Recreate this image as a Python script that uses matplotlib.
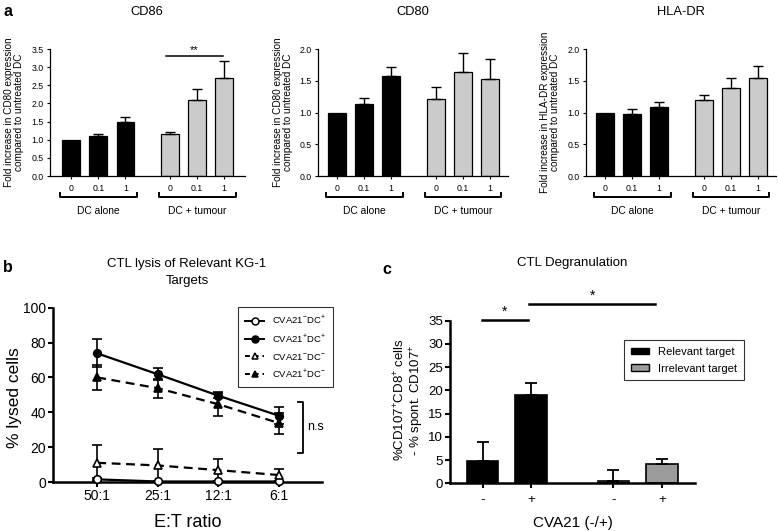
import matplotlib
matplotlib.use('Agg')
import matplotlib.pyplot as plt
from matplotlib.lines import Line2D
from matplotlib.patches import Patch

plt.rcParams['font.family'] = ['Liberation Sans', 'DejaVu Sans']
plt.rcParams['mathtext.fontset'] = 'custom'
plt.rcParams['mathtext.rm'] = 'Liberation Sans'
plt.rcParams['mathtext.it'] = 'Liberation Sans:italic'
plt.rcParams['mathtext.bf'] = 'Liberation Sans:bold'

# ---------------- data ----------------
# panel a
doses = ['0', '0.1', '1', '0', '0.1', '1']
groups = ['DC alone', 'DC + tumour']
cd86 = [1.00, 1.11, 1.50, 1.17, 2.10, 2.69]
cd86_err = [0.0, 0.04, 0.13, 0.04, 0.30, 0.48]
cd80 = [1.00, 1.13, 1.58, 1.21, 1.63, 1.53]
cd80_err = [0.0, 0.10, 0.14, 0.19, 0.30, 0.31]
hla = [1.00, 0.98, 1.08, 1.20, 1.39, 1.55]
hla_err = [0.0, 0.08, 0.09, 0.07, 0.15, 0.18]

# panel b
ratios = ['50:1', '25:1', '12:1', '6:1']
neg_dcpos = [1.5, 0.3, 0.3, 0.3]
neg_dcpos_err = [1.0, 0.5, 0.5, 0.5]
pos_dcpos = [73.8, 61.8, 49.5, 38.0]
pos_dcpos_err = [8.0, 3.5, 1.5, 5.0]
neg_dcneg = [11.0, 9.5, 6.8, 4.0]
neg_dcneg_err = [10.0, 9.5, 6.5, 3.5]
pos_dcneg = [60.0, 53.8, 44.6, 33.8]
pos_dcneg_err = [7.0, 5.5, 7.0, 6.0]

# panel c
cva_labels = ['-', '+', '-', '+']
degran = [4.9, 19.1, 0.5, 4.1]
degran_err = [3.9, 2.5, 2.4, 1.2]
targets = ['Relevant target', 'Irrelevant target']

# ---------------- figure ----------------
W, H = 778, 531
fig = plt.figure(figsize=(W / 100, H / 100), dpi=100)


def px_axes(l, t, r, b):
    return fig.add_axes([l / W, 1 - b / H, (r - l) / W, (b - t) / H])


def ftext(x, y, s, **kw):
    return fig.text(x / W, 1 - y / H, s, **kw)


BLACK = '#000000'
LGREY = '#cbcbcb'
MGREY = '#9b9b9b'

# ---------------- panel a ----------------
xpos_a = [0, 1, 2, 3.65, 4.65, 5.65]
group_centers = [1.0, 4.65]


def bar_panel(ax, vals, errs, ymax, step, xlim, title, ylab, tx, lx):
    cols = [BLACK] * 3 + [LGREY] * 3
    ax.bar(xpos_a, vals, width=0.66, color=cols, edgecolor='black',
           linewidth=0.9, zorder=2)
    for x, v, e in zip(xpos_a, vals, errs):
        if e > 0:
            ax.errorbar([x], [v], yerr=[[0], [e]], fmt='none', ecolor='black',
                        elinewidth=1.0, capsize=3.6, capthick=1.0, zorder=3)
    ax.set_xlim(*xlim)
    ax.set_ylim(0, ymax)
    n = int(round(ymax / step))
    yt = [i * step for i in range(n + 1)]
    ax.set_yticks(yt)
    ax.set_yticklabels([f'{t:.1f}' for t in yt])
    ax.set_xticks(xpos_a)
    ax.set_xticklabels(doses)
    ax.tick_params(axis='both', labelsize=6.3, length=2.5, width=0.8, pad=2)
    ax.tick_params(axis='x', pad=3)
    for s in ['top', 'right']:
        ax.spines[s].set_visible(False)
    for s in ['left', 'bottom']:
        ax.spines[s].set_linewidth(0.9)
    tr = ax.get_xaxis_transform()
    for gc, gl in zip(group_centers, groups):
        ax.plot([gc - 1.42, gc - 1.42, gc + 1.42, gc + 1.42],
                [-0.134, -0.169, -0.169, -0.134], color='black', lw=1.4,
                transform=tr, clip_on=False)
        ax.text(gc, -0.275, gl, transform=tr, ha='center', va='center',
                fontsize=7.4)
    ftext(tx, 12, title, ha='center', va='center', fontsize=9.3)
    ftext(lx, 112, ylab, rotation=90, ha='center', va='center', fontsize=7.2,
          linespacing=1.12)


ylab86 = 'Fold increase in CD80 expression\ncompared to untreated DC'
ylabhla = 'Fold increase in HLA-DR expression\ncompared to untreated DC'

ax1 = px_axes(50, 49, 245, 176)
bar_panel(ax1, cd86, cd86_err, 3.5, 0.5, (-0.79, 6.42), 'CD86', ylab86, 147, 14)
ax1.plot([3.5, 5.6], [3.31, 3.31], color='black', lw=1.1, clip_on=False)
ax1.text(4.55, 3.33, '**', ha='center', va='bottom', fontsize=8)

ax2 = px_axes(318, 49, 508, 176)
bar_panel(ax2, cd80, cd80_err, 2.0, 0.5, (-0.70, 6.31), 'CD80', ylab86, 413, 283)

ax3 = px_axes(586, 49, 776, 176)
bar_panel(ax3, hla, hla_err, 2.0, 0.5, (-0.70, 6.31), 'HLA-DR', ylabhla, 681, 550)

ftext(3, 11, 'a', fontsize=11.5, fontweight='bold', ha='left', va='center')

# ---------------- panel b ----------------
axb = px_axes(53, 307.7, 322, 482)
xb = list(range(len(ratios)))
series = [
    (neg_dcpos, neg_dcpos_err, 'o', 'white', '-', 'CVA21$^{-}$DC$^{+}$'),
    (pos_dcpos, pos_dcpos_err, 'o', 'black', '-', 'CVA21$^{+}$DC$^{+}$'),
    (neg_dcneg, neg_dcneg_err, '^', 'white', '--', 'CVA21$^{-}$DC$^{-}$'),
    (pos_dcneg, pos_dcneg_err, '^', 'black', '--', 'CVA21$^{+}$DC$^{-}$'),
]
handles = []
for vals, errs, mk, mfc, ls, lab in series:
    axb.errorbar(xb, vals, yerr=errs, fmt='none', ecolor='black',
                 elinewidth=1.2, capsize=3.5, capthick=1.2, clip_on=False,
                 zorder=3)
    axb.plot(xb, vals, linestyle=ls, color='black', lw=1.6, marker=mk,
             markersize=5.5, markerfacecolor=mfc, markeredgecolor='black',
             markeredgewidth=1.2, dashes=(4, 2.5) if ls == '--' else (None, None),
             clip_on=False, zorder=4)
    h = Line2D([], [], linestyle=ls, color='black', lw=1.4, marker=mk,
               markersize=5, markerfacecolor=mfc, markeredgecolor='black',
               markeredgewidth=1.1)
    if ls == '--':
        h.set_dashes((2.5, 2))
    handles.append(h)
axb.set_xlim(-0.73, 3.71)
axb.set_ylim(0, 100)
axb.set_yticks([0, 20, 40, 60, 80, 100])
axb.set_xticks(xb)
axb.set_xticklabels(ratios)
axb.tick_params(axis='both', labelsize=10, length=3.5, width=1.5, pad=1.5)
for s in ['top', 'right']:
    axb.spines[s].set_visible(False)
for s in ['left', 'bottom']:
    axb.spines[s].set_linewidth(1.8)
leg = axb.legend(handles, [s[5] for s in series], loc='upper right',
                 bbox_to_anchor=(1.04, 1.005), borderaxespad=0, fontsize=6.8,
                 handlelength=2.0, labelspacing=0.62, frameon=True,
                 fancybox=False, edgecolor='black', borderpad=0.75,
                 handletextpad=0.8)
leg.get_frame().set_linewidth(0.8)
# n.s bracket
axb.plot([3.32, 3.40, 3.40, 3.32], [46, 46, 16.8, 16.8], color='black',
         lw=1.3, clip_on=False)
axb.text(3.47, 31.4, 'n.s', ha='left', va='center', fontsize=9)

ftext(187, 272.5, 'CTL lysis of Relevant KG-1\nTargets', ha='center',
      va='center', fontsize=9.5, linespacing=1.45)
ftext(14.5, 398, '% lysed cells', rotation=90, ha='center', va='center',
      fontsize=12.5)
ftext(187.5, 522.5, 'E:T ratio', ha='center', va='center', fontsize=13)
ftext(3, 268, 'b', fontsize=11.5, fontweight='bold', ha='left', va='center')

# ---------------- panel c ----------------
axc = px_axes(450, 320.7, 695, 483.3)
xc = [0, 1, 2.7, 3.7]
cols_c = [BLACK, BLACK, MGREY, MGREY]
axc.bar(xc, degran, width=0.65, color=cols_c, edgecolor='black',
        linewidth=1.2, zorder=2)
axc.errorbar(xc, degran, yerr=[[0] * len(xc), degran_err], fmt='none',
             ecolor='black', elinewidth=1.3, capsize=4.2, capthick=1.3,
             zorder=3)
axc.set_xlim(-0.67, 4.38)
axc.set_ylim(0, 35)
axc.set_yticks(list(range(0, 36, 5)))
axc.set_xticks(xc)
axc.set_xticklabels(cva_labels)
axc.tick_params(axis='both', labelsize=9.5, length=3.5, width=1.5, pad=1.5)
axc.tick_params(axis='x', pad=4)
for s in ['top', 'right']:
    axc.spines[s].set_visible(False)
for s in ['left', 'bottom']:
    axc.spines[s].set_linewidth(1.8)
# significance
axc.plot([-0.02, 0.93], [35.1, 35.1], color='black', lw=1.8, clip_on=False)
axc.text(0.45, 35.5, '*', ha='center', va='bottom', fontsize=10)
axc.plot([0.96, 3.56], [38.5, 38.5], color='black', lw=1.8, clip_on=False)
axc.text(2.26, 38.9, '*', ha='center', va='bottom', fontsize=10)
hc = [Patch(facecolor=BLACK, edgecolor='black', linewidth=1.0),
      Patch(facecolor=MGREY, edgecolor='black', linewidth=1.0)]
legc = axc.legend(hc, targets, loc='upper right', bbox_to_anchor=(1.2, 0.881),
                  borderaxespad=0, fontsize=8.1, handlelength=1.6,
                  handleheight=0.5, labelspacing=0.6, frameon=True,
                  fancybox=False, edgecolor='black', borderpad=0.6,
                  handletextpad=0.8)
legc.get_frame().set_linewidth(0.8)

ftext(572, 263, 'CTL Degranulation', ha='center', va='center', fontsize=9.5)
ftext(409, 400, '%CD107$^{+}$CD8$^{+}$ cells\n- % spont. CD107$^{+}$',
      rotation=90, ha='center', va='center', fontsize=9.5, linespacing=1.1)
ftext(573, 523, 'CVA21 (-/+)', ha='center', va='center', fontsize=11)
ftext(382, 270, 'c', fontsize=11.5, fontweight='bold', ha='left', va='center')

fig.savefig('out.png', dpi=100)
